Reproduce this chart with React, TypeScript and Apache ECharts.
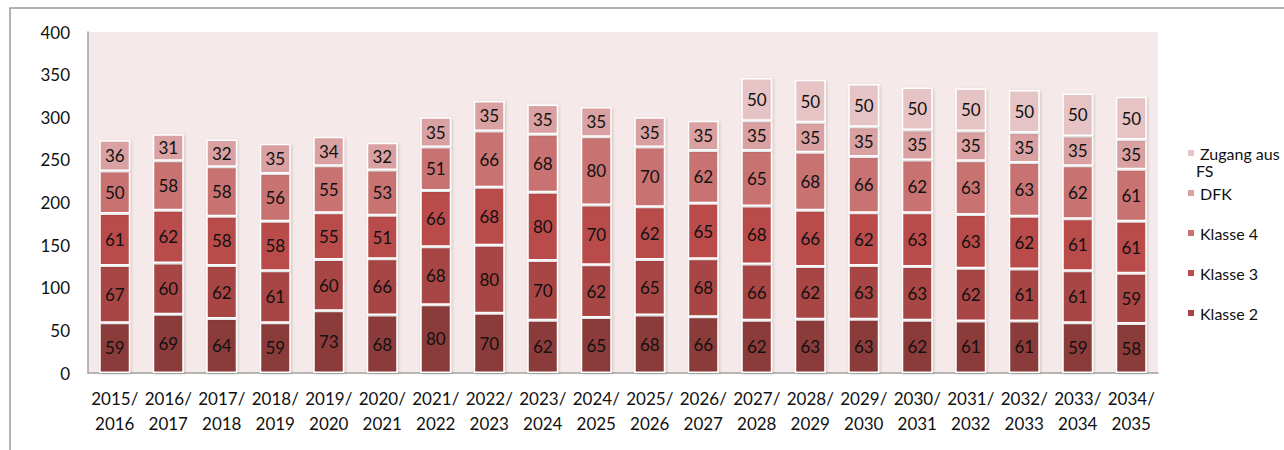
import React, { useEffect, useRef } from "react";
import * as echarts from "echarts";

const categories = [
  "2015/\n2016", "2016/\n2017", "2017/\n2018", "2018/\n2019", "2019/\n2020",
  "2020/\n2021", "2021/\n2022", "2022/\n2023", "2023/\n2024", "2024/\n2025",
  "2025/\n2026", "2026/\n2027", "2027/\n2028", "2028/\n2029", "2029/\n2030",
  "2030/\n2031", "2031/\n2032", "2032/\n2033", "2033/\n2034", "2034/\n2035",
];

const klasse1 = [59, 69, 64, 59, 73, 68, 80, 70, 62, 65, 68, 66, 62, 63, 63, 62, 61, 61, 59, 58];
const klasse2 = [67, 60, 62, 61, 60, 66, 68, 80, 70, 62, 65, 68, 66, 62, 63, 63, 62, 61, 61, 59];
const klasse3 = [61, 62, 58, 58, 55, 51, 66, 68, 80, 70, 62, 65, 68, 66, 62, 63, 63, 62, 61, 61];
const klasse4 = [50, 58, 58, 56, 55, 53, 51, 66, 68, 80, 70, 62, 65, 68, 66, 62, 63, 63, 62, 61];
const dfk = [36, 31, 32, 35, 34, 32, 35, 35, 35, 35, 35, 35, 35, 35, 35, 35, 35, 35, 35, 35];
const zugang = [null, null, null, null, null, null, null, null, null, null, null, null, 50, 50, 50, 50, 50, 50, 50, 50];

const yTicks = { min: 0, max: 400, interval: 50 };

const seriesDefs = [
  { name: "Klasse 1", data: klasse1, color: "#8C3A3A" },
  { name: "Klasse 2", data: klasse2, color: "#A84444" },
  { name: "Klasse 3", data: klasse3, color: "#BA4C4C" },
  { name: "Klasse 4", data: klasse4, color: "#C87372" },
  { name: "DFK", data: dfk, color: "#D9A1A1" },
  { name: "Zugang aus FS", data: zugang, color: "#E6C3C4" },
];

const FONT = "Lato";

export default function App() {
  const ref = useRef<HTMLDivElement>(null);
  useEffect(() => {
    if (!ref.current) return;
    const chart = echarts.init(ref.current, null, { renderer: "svg" });
    chart.setOption({
      animation: false,
      textStyle: { fontFamily: FONT },
      grid: {
        left: 88,
        top: 32,
        width: 1070,
        height: 341,
        show: true,
        backgroundColor: "#F6E9E9",
        borderWidth: 0,
      },
      legend: {
        orient: "vertical",
        left: 1181,
        top: 140,
        itemWidth: 8,
        itemHeight: 8,
        itemGap: 24,
        icon: "rect",
        data: ["Zugang aus FS", "DFK", "Klasse 4", "Klasse 3", "Klasse 2"],
        formatter: (n: string) => (n === "Zugang aus FS" ? "Zugang aus" : n),
        textStyle: { fontFamily: FONT, fontSize: 16, color: "#111", lineHeight: 16 },
        selectedMode: false,
      },
      graphic: [
        {
          type: "rect",
          shape: { x: 10, y: 8, width: 1300, height: 470 },
          style: { fill: "none", stroke: "#9a9a9a", lineWidth: 1.5 },
          silent: true,
        },
        {
          type: "text",
          x: 1196,
          y: 170,
          style: {
            text: "FS",
            fontFamily: FONT,
            fontSize: 16,
            lineHeight: 16,
            fill: "#111",
            verticalAlign: "middle",
          },
        },
      ],
      xAxis: {
        type: "category",
        data: categories,
        axisLine: { show: true, lineStyle: { color: "#a0a0a0", width: 1.5 } },
        axisTick: { show: false },
        axisLabel: {
          fontFamily: FONT,
          fontSize: 17,
          color: "#111",
          lineHeight: 25,
          margin: 13,
          interval: 0,
        },
      },
      yAxis: {
        type: "value",
        min: yTicks.min,
        max: yTicks.max,
        interval: yTicks.interval,
        axisLine: { show: true, lineStyle: { color: "#a0a0a0", width: 1.5 } },
        axisTick: { show: false },
        splitLine: { show: false },
        axisLabel: { fontFamily: FONT, fontSize: 17, color: "#111", margin: 18 },
      },
      series: seriesDefs.map((s) => ({
        name: s.name,
        type: "bar",
        stack: "total",
        barWidth: 31,
        data: s.data,
        itemStyle: {
          color: s.color,
          borderColor: "#ffffff",
          borderWidth: 1.5,
          shadowBlur: 3,
          shadowColor: "rgba(0,0,0,0.18)",
          shadowOffsetX: 1,
          shadowOffsetY: 1,
        },
        label: {
          show: true,
          position: "inside",
          fontFamily: FONT,
          fontSize: 17,
          color: "#111",
          formatter: (p: any) => (p.value == null ? "" : String(p.value)),
        },
      })),
    });
    return () => chart.dispose();
  }, []);
  return (
    <div
      ref={ref}
      style={{ position: "absolute", left: 0, top: 0, width: 1284, height: 450, background: "#fff" }}
    />
  );
}
